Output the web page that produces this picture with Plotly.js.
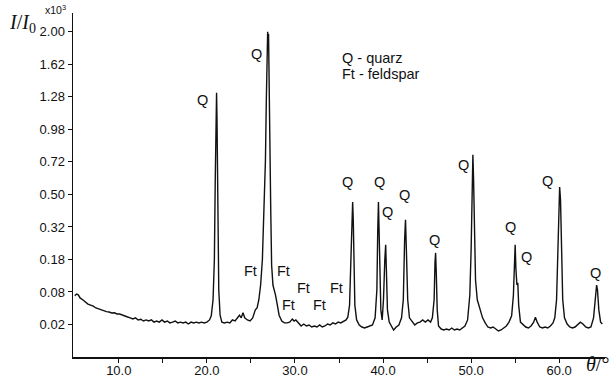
<!DOCTYPE html>
<html>
<head>
<meta charset="utf-8">
<script src="https://cdn.plot.ly/plotly-3.0.1.min.js"></script>
<style>
html,body{margin:0;padding:0;background:#fff;}
#chart{width:613px;height:378px;}
</style>
</head>
<body>
<div id="chart"></div>
<script>
// 2-theta angle (degrees)
var theta = [
5.0,5.2,5.4,5.6,5.9,6.2,6.5,6.8,7.1,7.4,7.7,8.0,8.3,8.6,8.9,9.2,9.5,9.8,10.1,10.4,10.7,11.0,11.3,11.6,11.9,12.2,12.5,12.8,13.1,13.4,13.7,14.0,14.3,14.6,14.9,15.2,15.5,15.8,16.1,16.4,16.7,17.0,17.3,17.6,17.9,18.2,18.5,18.8,19.1,19.4,19.7,20.0,20.3,20.5,20.7,20.85,20.95,21.05,21.1,21.15,21.25,21.35,21.5,21.7,
22.0,22.3,22.6,22.9,23.2,23.5,23.7,23.9,24.1,24.3,24.6,24.9,25.2,25.5,25.7,25.9,26.1,26.3,26.5,26.65,26.75,26.85,26.9,26.95,27.0,27.05,27.15,27.25,27.35,27.5,27.65,27.8,28.0,28.2,28.5,28.8,
29.1,29.4,29.7,29.9,30.1,30.4,30.7,31.0,31.3,31.6,31.9,32.2,32.5,32.8,33.1,33.4,33.7,34.0,34.3,34.6,34.9,35.2,35.5,35.8,36.0,36.2,36.35,36.45,36.55,36.62,36.7,36.8,37.0,37.3,37.6,37.9,38.2,38.5,38.8,
39.1,39.3,39.4,39.48,39.55,39.65,39.75,39.9,40.05,40.2,40.3,40.38,40.5,40.7,41.0,41.2,41.5,41.8,42.1,42.3,42.45,42.55,42.65,42.8,43.0,43.3,43.6,43.9,44.2,44.5,44.8,45.1,45.4,45.6,45.8,45.9,45.97,46.05,46.15,46.3,46.6,46.9,
47.2,47.5,47.8,48.1,48.4,48.7,49.0,49.3,49.6,49.85,50.0,50.1,50.2,50.28,50.38,50.5,50.7,51.0,51.3,51.6,51.9,52.2,52.5,52.8,53.1,53.4,53.7,54.0,54.3,54.6,54.8,54.92,55.0,55.08,55.2,55.3,55.4,55.6,55.9,
56.2,56.5,56.8,57.1,57.3,57.5,57.8,58.1,58.4,58.7,59.0,59.3,59.5,59.7,59.85,59.95,60.05,60.15,60.25,60.4,60.6,60.9,61.2,61.5,61.8,62.1,62.4,62.7,63.0,63.3,63.6,63.9,64.1,64.25,64.35,64.5,64.7,64.9
];
// relative intensity I/I0 (x10^3)
var intensity = [
0.071,0.075,0.073,0.066,0.062,0.057,0.053,0.051,0.049,0.0455,0.0436,0.042,0.040,0.039,0.0383,0.0367,0.037,0.035,0.035,0.033,0.0318,0.0303,0.029,0.0273,0.029,0.026,0.027,0.0245,0.026,0.0245,0.026,0.023,0.0245,0.023,0.026,0.023,0.0245,0.022,0.023,0.0245,0.022,0.023,0.022,0.023,0.0206,0.023,0.022,0.023,0.022,0.023,0.022,0.023,0.026,0.032,0.062,0.178,0.593,1.155,1.32,1.063,0.356,0.085,0.033,0.023,
0.022,0.023,0.022,0.026,0.0245,0.030,0.033,0.029,0.037,0.029,0.026,0.0245,0.029,0.042,0.0455,0.062,0.098,0.178,0.438,0.735,1.25,1.785,2.0,1.93,1.975,1.67,0.892,0.409,0.160,0.098,0.085,0.072,0.051,0.033,0.0245,0.022,
0.022,0.023,0.0273,0.0245,0.026,0.022,0.0182,0.0206,0.0182,0.0194,0.017,0.0182,0.017,0.0194,0.017,0.0182,0.0206,0.0194,0.022,0.0206,0.023,0.022,0.0245,0.026,0.030,0.051,0.178,0.382,0.455,0.356,0.143,0.051,0.026,0.0194,0.017,0.0159,0.017,0.0182,0.0194,
0.029,0.085,0.305,0.455,0.305,0.098,0.042,0.026,0.062,0.178,0.238,0.143,0.042,0.023,0.016,0.0138,0.017,0.0194,0.029,0.062,0.259,0.356,0.217,0.062,0.029,0.023,0.0194,0.022,0.023,0.026,0.023,0.026,0.023,0.029,0.062,0.171,0.205,0.127,0.042,0.0182,0.0148,0.0138,
0.0148,0.0138,0.0159,0.0138,0.0148,0.0138,0.0159,0.0182,0.026,0.072,0.217,0.528,0.773,0.593,0.259,0.112,0.062,0.042,0.029,0.022,0.017,0.0159,0.017,0.0148,0.0128,0.0138,0.0159,0.0182,0.023,0.032,0.072,0.197,0.238,0.150,0.098,0.104,0.051,0.023,0.0194,
0.017,0.0159,0.0182,0.023,0.030,0.023,0.017,0.0159,0.017,0.0159,0.0182,0.022,0.029,0.062,0.259,0.467,0.547,0.467,0.217,0.062,0.029,0.0206,0.017,0.0159,0.017,0.0194,0.023,0.0206,0.017,0.0159,0.017,0.029,0.062,0.098,0.085,0.042,0.023,0.0206
];
var yTickValues = [0.02,0.08,0.18,0.32,0.50,0.72,0.98,1.28,1.62,2.00];
var yTickLabels = ["0.02","0.08","0.18","0.32","0.50","0.72","0.98","1.28","1.62","2.00"];
var xTickValues = [10,20,30,40,50,60];
var xTickLabels = ["10.0","20.0","30.0","40.0","50.0","60.0"];
var xMinorTicks = [15,25,35,45,55];
var peakLabels = ["Q","Q","Q","Q","Q","Q","Q","Q","Q","Q","Q","Q"];
var feldsparLabels = ["Ft","Ft","Ft","Ft","Ft","Ft"];

// square-root intensity scale (axis is equally spaced in sqrt of I/I0)
var ySqrt = intensity.map(function(v){return Math.sqrt(v);});

var W=613,H=378,L=73,R=8,T=13,B=21;
function px(x){return (x-L)/(W-L-R);}
function py(y){return (H-B-y)/(H-T-B);}

var qPos = [[202,100],[256,54],[347,182],[379,182],[387,212],[404,195],[434,240],[463,165],[510,227],[526,257],[547,181],[595,273]];
var ftPos = [[250,271],[283,271],[288,305],[303,288],[319,305],[336,288]];

var ann = [];
var fnt = {family:"Liberation Sans, Arial, sans-serif", size:14.5, color:"#111"};
qPos.forEach(function(p,i){
  ann.push({xref:"paper",yref:"paper",x:px(p[0]),y:py(p[1]),text:peakLabels[i],showarrow:false,font:fnt,xanchor:"center",yanchor:"middle"});
});
ftPos.forEach(function(p,i){
  ann.push({xref:"paper",yref:"paper",x:px(p[0]),y:py(p[1]),text:feldsparLabels[i],showarrow:false,font:fnt,xanchor:"center",yanchor:"middle"});
});
ann.push({xref:"paper",yref:"paper",x:px(340),y:py(58),text:"Q - quarz",showarrow:false,font:fnt,xanchor:"left",yanchor:"middle"});
ann.push({xref:"paper",yref:"paper",x:px(340),y:py(74),text:"Ft - feldspar",showarrow:false,font:fnt,xanchor:"left",yanchor:"middle"});
ann.push({xref:"paper",yref:"paper",x:px(7),y:py(24),text:"<i>I</i>/<i>I</i><sub>0</sub>",showarrow:false,font:{family:"Liberation Serif, Times New Roman, serif",size:20,color:"#111"},xanchor:"left",yanchor:"middle"});
ann.push({xref:"paper",yref:"paper",x:px(43),y:py(10),text:"x10<sup>3</sup>",showarrow:false,font:{family:"Liberation Sans, Arial, sans-serif",size:10.5,color:"#111"},xanchor:"left",yanchor:"middle"});
ann.push({xref:"paper",yref:"paper",x:px(611),y:py(364),text:"<i>θ</i>/°",showarrow:false,font:{family:"Liberation Serif, Times New Roman, serif",size:20,color:"#111"},xanchor:"right",yanchor:"middle"});

var trace = {x:theta,y:ySqrt,type:"scatter",mode:"lines",line:{color:"#111",width:1.4},hoverinfo:"skip"};

var layout = {
  width:W,height:H,
  margin:{l:L,r:R,t:T,b:B},
  paper_bgcolor:"#fff",plot_bgcolor:"#fff",
  showlegend:false,
  font:{family:"Liberation Sans, Arial, sans-serif",size:13,color:"#111"},
  xaxis:{range:[4.8,65.2],tickmode:"array",tickvals:xTickValues,ticktext:xTickLabels,
    ticks:"outside",ticklen:4,tickwidth:1,tickcolor:"#111",showline:true,linecolor:"#111",linewidth:1.5,
    ticklabelstandoff:-3,
    minor:{tickmode:"array",tickvals:xMinorTicks,ticks:"outside",ticklen:4,tickwidth:1,tickcolor:"#111",showgrid:false},
    showgrid:false,zeroline:false,tickfont:{size:13}},
  yaxis:{range:[0,1.4962],tickmode:"array",tickvals:yTickValues.map(function(v){return Math.sqrt(v);}),ticktext:yTickLabels,
    ticks:"outside",ticklen:4,tickwidth:1,tickcolor:"#111",showline:true,linecolor:"#111",linewidth:1.5,
    showgrid:false,zeroline:false,tickfont:{size:13}},
  annotations:ann
};
Plotly.newPlot("chart",[trace],layout,{staticPlot:true,displayModeBar:false});
</script>
</body>
</html>
